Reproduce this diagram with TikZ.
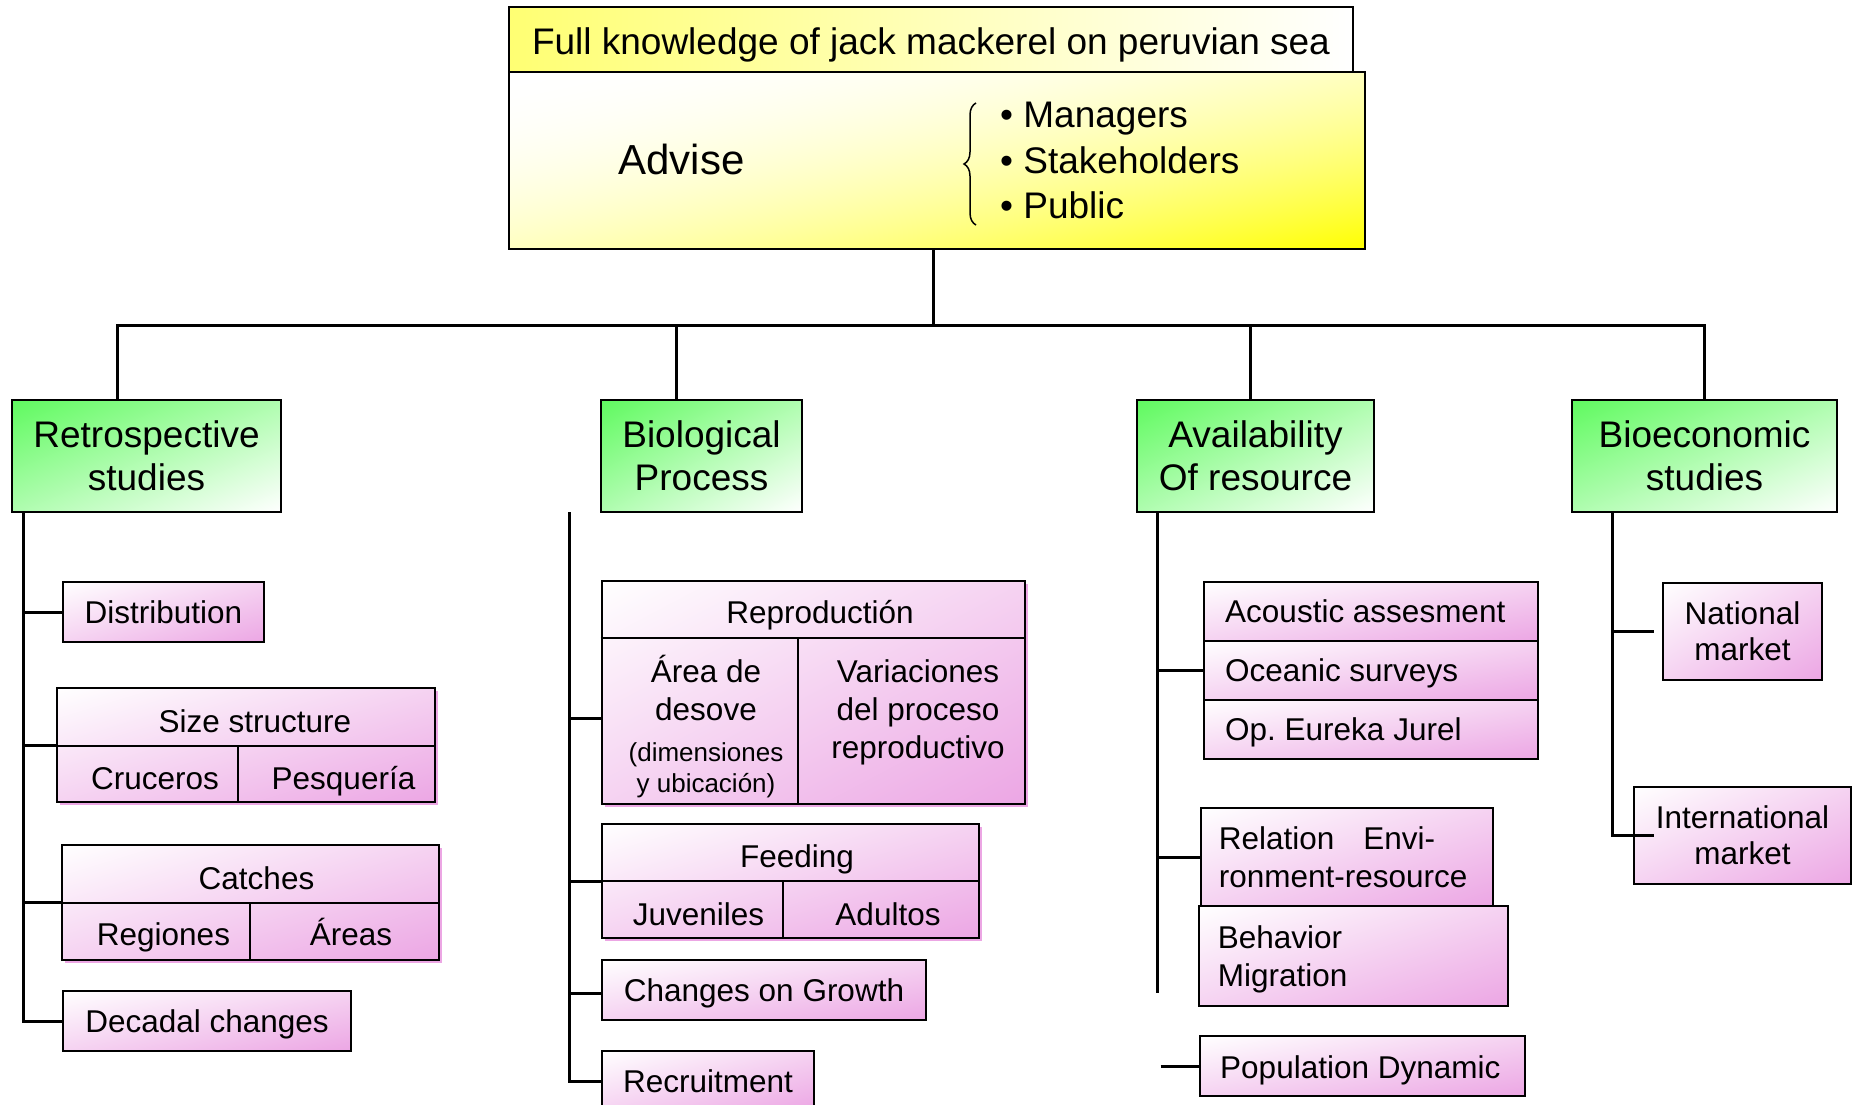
\documentclass[tikz,border=0pt]{standalone}
\usepackage{fontspec}
\setmainfont{Liberation Sans}
\usetikzlibrary{decorations.pathreplacing,shadows}

\definecolor{itempink}{RGB}{236,166,228}
\definecolor{goalyellow}{RGB}{255,255,0}

% diagonal fills: top left light, bottom right full colour
\pgfdeclarefunctionalshading{pinkdiag}{\pgfpoint{-50bp}{-50bp}}{\pgfpoint{50bp}{50bp}}{}{
	sub 100 div 0.5 add dup 0 lt {pop 0} if dup 1 gt {pop 1} if
	dup 0.075 mul 1 exch sub exch dup 0.349 mul 1 exch sub exch 0.106 mul 1 exch sub
}
\pgfdeclarefunctionalshading{greendiag}{\pgfpoint{-50bp}{-50bp}}{\pgfpoint{50bp}{50bp}}{}{
	sub 100 div 0.5 add dup 0 lt {pop 0} if dup 1 gt {pop 1} if
	dup 0.627 mul 0.373 add exch 0.02 mul 0.98 add 1 index
}
\pgfdeclarefunctionalshading{yellowdiag}{\pgfpoint{-50bp}{-50bp}}{\pgfpoint{50bp}{50bp}}{}{
	sub 100 div 0.5 add dup 0 lt {pop 0} if dup 1 gt {pop 1} if
	dup mul 1 exch sub 1 1 3 -1 roll
}

\tikzset{
	box/.style={draw, line width=2.7pt, inner sep=0pt, align=center},
	headbox/.style={box, shade, shading=greendiag, font=\fontsize{37}{43}\selectfont},
	itembox/.style={box, shade, shading=pinkdiag, font=\fontsize{31.5}{36}\selectfont},
	splitbox/.style={itembox, drop shadow={fill=itempink, opacity=1, shadow xshift=3pt, shadow yshift=-3pt}},
	oneline/.style={text height=23pt, text depth=0pt},
	txt/.style={inner sep=0pt, font=\fontsize{31.5}{36}\selectfont},
	divider/.style={line width=2.7pt},
	conn/.style={line width=3pt},
}

\begin{document}
\begin{tikzpicture}[x=1pt, y=-1pt]
\useasboundingbox (0,0) rectangle (1852,1105);

% Goal
\node[box, left color=goalyellow!55, right color=white, minimum width=844pt, minimum height=65pt, text height=31pt, text depth=0pt, font=\fontsize{37}{43}\selectfont] (goal) at (931,39.5) {Full knowledge of jack mackerel on peruvian sea};
\node[box, shade, shading=yellowdiag, minimum width=856pt, minimum height=177pt] (adv) at (937,160.5) {};
\node[inner sep=0pt, anchor=base, font=\fontsize{42}{48}\selectfont] (advise) at (681.5,175) {Advise};
\draw[line width=1.5pt, decorate, decoration={brace, amplitude=12pt}] (976,225) -- (976,103);
\foreach \t [count=\i] in {Managers, Stakeholders, Public}
	\node[inner sep=0pt, anchor=base west, font=\fontsize{37}{43}\selectfont] (aud\i) at (1000,83+45*\i) {\textbullet{} \t};

% Main lines
\node[headbox, minimum width=269pt, minimum height=112pt] (retro) at (146.5,456) {Retrospective\\studies};
\node[headbox, minimum width=201pt, minimum height=112pt] (bio) at (701.5,456) {Biological\\Process};
\node[headbox, minimum width=237pt, minimum height=112pt] (avail) at (1255.5,456) {Availability\\Of resource};
\node[headbox, minimum width=265pt, minimum height=112pt] (eco) at (1704.5,456) {Bioeconomic\\studies};

\coordinate (hub) at (933,325);
\draw[conn] (adv.south -| hub) -- (hub);
\draw[conn] ([xshift=-29.5pt]retro.north) |- (hub) -| ([xshift=-0.5pt]eco.north);
\draw[conn] ([xshift=-25.5pt]bio.north) |- (hub);
\draw[conn] ([xshift=-5.5pt]avail.north) |- (hub);

% Retrospective studies
\node[itembox, oneline, minimum width=201pt, minimum height=60pt] (dist) at (163.5,612) {Distribution};
\node[splitbox, minimum width=378pt, minimum height=114pt] (size) at (246,745) {};
\draw[divider] (size.west |- 0,746) -- (size.east |- 0,746);
\draw[divider] (238,746) -- (size.south -| 238,0);
\node[txt, anchor=base] (sizehd) at (255,732) {Size structure};
\node[txt, anchor=base] (cruc) at (155,789) {Cruceros};
\node[txt, anchor=base] (pesq) at (343.5,789) {Pesquería};
\node[splitbox, minimum width=377pt, minimum height=115pt] (catch) at (250.5,902.5) {};
\draw[divider] (catch.west |- 0,903) -- (catch.east |- 0,903);
\draw[divider] (250,903) -- (catch.south -| 250,0);
\node[txt, anchor=base] (catchhd) at (256.5,889) {Catches};
\node[txt, anchor=base] (regi) at (163.5,945) {Regiones};
\node[txt, anchor=base] (area) at (351,945) {Áreas};
\node[itembox, oneline, minimum width=288pt, minimum height=60pt] (deca) at (207,1021) {Decadal changes};

\coordinate (retrobot) at ([xshift=13pt]retro.south west);
\draw[conn] (retrobot) |- (deca.west);
\foreach \n in {dist,size,catch}
	\draw[conn] (retrobot |- \n.west) -- (\n.west);

% Biological process
\node[splitbox, minimum width=423pt, minimum height=223pt] (repro) at (813.5,692.5) {};
\draw[divider] (repro.west |- 0,638) -- (repro.east |- 0,638);
\draw[divider] (798,638) -- (repro.south -| 798,0);
\node[txt, anchor=base] (reprohd) at (820,623) {Reproductión};
\node[txt, anchor=base] (spawn1) at (706,682) {Área de};
\node[txt, anchor=base] (spawn2) at (706,720) {desove};
\node[txt, anchor=base, font=\fontsize{26}{30}\selectfont] (spawn3) at (706,761) {(dimensiones};
\node[txt, anchor=base, font=\fontsize{26}{30}\selectfont] (spawn4) at (706,792) {y ubicación)};
\foreach \t/\y [count=\i] in {Variaciones/682, del proceso/720, reproductivo/758}
	\node[txt, anchor=base] (vari\i) at (918,\y) {\t};
\node[splitbox, minimum width=377pt, minimum height=114pt] (feed) at (790.5,881) {};
\draw[divider] (feed.west) -- (feed.east);
\draw[divider] (783,881) -- (feed.south -| 783,0);
\node[txt, anchor=base] (feedhd) at (797,867) {Feeding};
\node[txt, anchor=base] (juve) at (698.5,925) {Juveniles};
\node[txt, anchor=base] (adul) at (888,925) {Adultos};
\node[itembox, oneline, minimum width=324pt, minimum height=60pt] (grow) at (764,990) {Changes on Growth};
\node[itembox, oneline, minimum width=212pt, minimum height=60pt] (recr) at (708,1081) {Recruitment};

\coordinate (biotop) at (569,512);
\draw[conn] (biotop) |- (recr.west);
\foreach \n/\y in {repro/718, feed/881, grow/993}
	\draw[conn] (biotop |- 0,\y) -- (\n.west |- 0,\y);

% Availability of resource
\foreach \t/\y/\b [count=\i] in {Acoustic assesment/611.5/622, Oceanic surveys/670.5/681, Op.\ Eureka Jurel/729.5/740}{
	\node[itembox, minimum width=334pt, minimum height=59pt] (av\i) at (1371,\y) {};
	\node[txt, anchor=base west] (avtxt\i) at (1225,\b) {\t};
}
\node[itembox, minimum width=292pt, minimum height=98pt] (rel) at (1347,857) {};
\node[txt, align=left, anchor=west, font=\fontsize{31.5}{38}\selectfont] (reltxt) at ([xshift=19pt]rel.west) {Relation\hspace{29pt}Envi-\\ronment-resource};
\node[itembox, minimum width=309pt, minimum height=100pt] (behav) at (1353.5,956) {};
\node[txt, align=left, anchor=west, font=\fontsize{31.5}{38}\selectfont] (behavtxt) at ([xshift=20pt]behav.west |- 0,959) {Behavior\\Migration};
\node[itembox, minimum width=325pt, minimum height=60pt] (popu) at (1362.5,1066) {};
\node[txt, anchor=base west] (poputxt) at (1220,1078) {Population Dynamic};

\coordinate (availbot) at ([xshift=22pt]avail.south west);
\draw[conn] (availbot) -- (availbot |- 0,993);
\draw[conn] (availbot |- av2.west) -- (av2.west);
\draw[conn] (availbot |- rel.west) -- (rel.west);
\draw[conn] ([xshift=-38pt]popu.west) -- (popu.west);

% Bioeconomic studies
\node[itembox, minimum width=159pt, minimum height=97pt] (natl) at (1742.5,631.5) {National\\market};
\node[itembox, minimum width=217pt, minimum height=97pt] (intl) at (1742.5,835.5) {International\\market};

\coordinate (ecobot) at ([xshift=42pt]eco.south west);
\draw[conn] (ecobot) |- ([xshift=21pt]intl.west);
\draw[conn] (ecobot |- natl.west) -- ([xshift=-8pt]natl.west);
\end{tikzpicture}
\end{document}
